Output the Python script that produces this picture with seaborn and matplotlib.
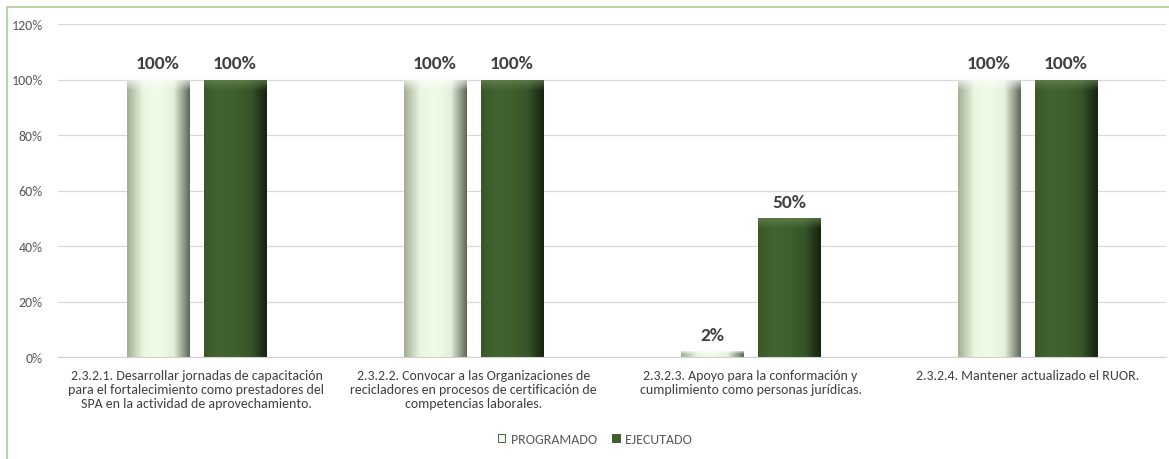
import matplotlib.pyplot as plt
import matplotlib.colors as mcolors
import numpy as np
import pandas as pd
import seaborn as sns
from matplotlib.patches import Rectangle

# Data
actividades = [
    "2.3.2.1. Desarrollar jornadas de capacitación\npara el fortalecimiento como prestadores del\nSPA en la actividad de aprovechamiento.",
    "2.3.2.2. Convocar a las Organizaciones de\nrecicladores en procesos de certificación de\ncompetencias laborales.",
    "2.3.2.3. Apoyo para la conformación y\ncumplimiento como personas jurídicas.",
    "2.3.2.4. Mantener actualizado el RUOR.",
]
programado = [100, 100, 2, 100]
ejecutado = [100, 100, 50, 100]
series = ["PROGRAMADO", "EJECUTADO"]
yticks = [0, 20, 40, 60, 80, 100, 120]

df = pd.DataFrame({
    "actividad": actividades * 2,
    "serie": [series[0]] * 4 + [series[1]] * 4,
    "valor": programado + ejecutado,
})

colores = {"PROGRAMADO": "#eefae4", "EJECUTADO": "#3f5f2b"}
# left edge / centre / right edge shades for the bevel look
degradados = {
    "PROGRAMADO": ["#a3b096", "#eaf6df", "#f1fce8", "#e4f0da", "#5f6959"],
    "EJECUTADO": ["#3a5827", "#426430", "#3f5f2b", "#37542a", "#16220f"],
}
brillo = {"PROGRAMADO": "#ffffff", "EJECUTADO": "#6b8a55"}

sns.set_style("white")
plt.rcParams['font.family'] = ['Carlito', 'DejaVu Sans']

fig = plt.figure(figsize=(11.69, 4.6), dpi=100)
ax = fig.add_axes([58 / 1169, 1 - 358 / 460, 1108 / 1169, 333 / 460])

sns.barplot(data=df, x="actividad", y="valor", hue="serie", palette=colores,
            width=0.556, gap=0.194, ax=ax, legend=False, saturation=1,
            edgecolor="none")

# gradient fill clipped to each bar, plus a soft top bevel
for i, cont in enumerate(ax.containers):
    cmap = mcolors.LinearSegmentedColormap.from_list("g%d" % i, degradados[series[i]])
    grad = np.linspace(0, 1, 64).reshape(1, -1)
    top = np.zeros((16, 1, 4))
    top[..., :3] = mcolors.to_rgb(brillo[series[i]])
    top[..., 3] = np.linspace(0.7, 0, 16).reshape(-1, 1)
    for bar in cont:
        x0, y0 = bar.get_x(), bar.get_y()
        w, h = bar.get_width(), bar.get_height()
        im = ax.imshow(grad, cmap=cmap, aspect="auto", extent=[x0, x0 + w, y0, y0 + h],
                       zorder=bar.get_zorder() + 0.1, interpolation="bicubic")
        im.set_clip_path(bar)
        band = min(4, h * 0.5)
        im2 = ax.imshow(top, aspect="auto", extent=[x0, x0 + w, y0 + h - band, y0 + h],
                        zorder=bar.get_zorder() + 0.2, interpolation="bilinear")
        im2.set_clip_path(bar)
    ax.bar_label(cont, labels=["%d%%" % v for v in cont.datavalues], padding=6,
                 fontsize=14, fontweight="bold", color="#404040")

ax.set_xlim(-0.5, 3.5)
ax.set_ylim(0, 120)
ax.set_yticks(yticks)
ax.set_yticklabels(["%d%%" % t for t in yticks])
ax.yaxis.grid(True, color="#d9d9d9", linewidth=0.9)
ax.set_axisbelow(True)
for s in ["top", "right", "left"]:
    ax.spines[s].set_visible(False)
ax.spines["bottom"].set_color("#d0d0d0")
ax.tick_params(axis="y", colors="#595959", labelsize=10, length=0, pad=11)
ax.tick_params(axis="x", colors="#404040", labelsize=10, length=0, pad=9)
ax.set_xlabel("")
ax.set_ylabel("")

handles = [Rectangle((0, 0), 1, 1, facecolor=colores[s], edgecolor="#3a4a30", linewidth=0.6)
           for s in series]
fig.legend(handles, series, loc="center", bbox_to_anchor=(0.509, 0.043), ncol=2,
           frameon=False, fontsize=10, handlelength=0.55, handleheight=0.55,
           handletextpad=0.4, columnspacing=1.1, labelcolor="#595959")

fig.patches.append(Rectangle((7 / 1169, -0.05), 1.1, 1 - 8 / 460 + 0.05, transform=fig.transFigure,
                             fill=False, edgecolor="#a9d18e", linewidth=1.2))

fig.savefig("out.png", dpi=100)
